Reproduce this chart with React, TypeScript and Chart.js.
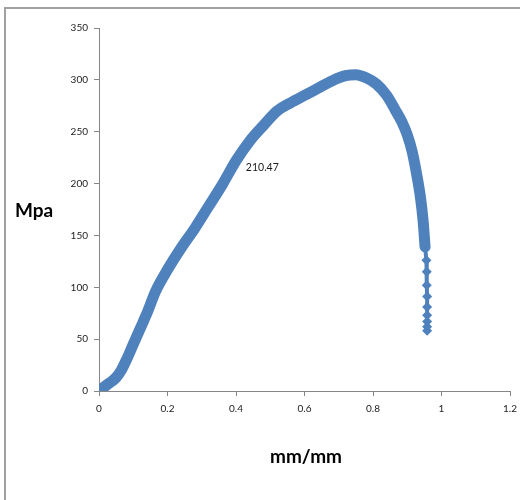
import React, { useEffect, useRef } from "react";
import { Chart, registerables } from "chart.js";

Chart.register(...registerables);

// Main stress-strain curve
const strainMain = [0, 0.015, 0.032, 0.05, 0.065, 0.08, 0.1, 0.12, 0.14, 0.165, 0.2, 0.24, 0.28, 0.32, 0.36, 0.4, 0.44, 0.48, 0.52, 0.56, 0.6, 0.64, 0.68, 0.72, 0.75, 0.78, 0.81, 0.84, 0.865, 0.885, 0.9, 0.915, 0.928, 0.938, 0.946, 0.952];
const stressMain = [0, 4, 8, 13, 20, 30, 45, 60, 75, 96, 117, 138, 157, 178, 199, 222, 241, 256, 270, 278, 285, 292, 299, 304, 305, 302, 296, 285, 271, 259, 247, 230, 208, 188, 165, 139];

// Sparse tail of individual diamond markers
const strainTail = [0.952, 0.956, 0.957, 0.957, 0.958, 0.958, 0.958, 0.958, 0.958, 0.958];
const stressTail = [139, 126, 115, 102, 91, 81, 73, 67, 62, 58];

const xMin = 0;
const xMax = 1.2;
const xStep = 0.2;
const yMin = 0;
const yMax = 350;
const yStep = 50;

const labelStrain = [0.385];
const labelStress = [210.47];
const labelText = ["210.47"];

const xTitle = "mm/mm";
const yTitle = "Mpa";

const BLUE = "#4F81BD";

export default function App() {
  const ref = useRef<HTMLCanvasElement | null>(null);

  useEffect(() => {
    if (!ref.current) return;

    const overlay = {
      id: "overlay",
      afterDraw(chart: any) {
        const ctx = chart.ctx;
        const xs = chart.scales.x;
        const ys = chart.scales.y;
        ctx.save();
        ctx.fillStyle = "#1a1a1a";
        ctx.font = "10.5px Lato";
        ctx.textAlign = "left";
        ctx.textBaseline = "middle";
        for (let i = 0; i < labelText.length; i++) {
          const px = xs.getPixelForValue(labelStrain[i]);
          const py = ys.getPixelForValue(labelStress[i]);
          ctx.fillText(labelText[i], px + 15, py - 5);
        }
        ctx.fillStyle = "#000";
        ctx.font = "bold 19px Lato";
        ctx.textAlign = "center";
        ctx.textBaseline = "alphabetic";
        ctx.fillText(yTitle, 34, 217);
        ctx.fillText(xTitle, 306, 463);
        ctx.restore();
      },
    };

    const chart = new Chart(ref.current, {
      type: "scatter",
      data: {
        datasets: [
          {
            data: strainMain.map((x, i) => ({ x, y: stressMain[i] })),
            showLine: true,
            borderColor: BLUE,
            backgroundColor: BLUE,
            borderWidth: 11,
            borderCapStyle: "round",
            borderJoinStyle: "round",
            cubicInterpolationMode: "monotone",
            pointRadius: 0,
          },
          {
            data: strainTail.map((x, i) => ({ x, y: stressTail[i] })),
            showLine: true,
            borderColor: BLUE,
            backgroundColor: BLUE,
            borderWidth: 4,
            pointStyle: "rectRot",
            pointRadius: 5,
            pointBorderWidth: 0,
          },
        ],
      },
      options: {
        responsive: false,
        animation: false,
        devicePixelRatio: 1,
        layout: { padding: { left: 0, right: 0, top: 28, bottom: 0 } },
        plugins: {
          legend: { display: false },
          tooltip: { enabled: false },
        },
        scales: {
          x: {
            type: "linear",
            min: xMin,
            max: xMax,
            afterFit: (s: any) => {
              s.height = 109;
              s.paddingRight = 10;
              s.paddingLeft = 0;
            },
            ticks: {
              stepSize: xStep,
              font: { family: "Lato", size: 10 },
              color: "#222",
              padding: 7,
              maxRotation: 0,
              callback: (v: any) => String(Number(Number(v).toFixed(1))),
            },
            grid: {
              display: true,
              drawOnChartArea: false,
              drawTicks: true,
              tickLength: 5,
              color: "#868686",
            },
            border: { display: true, color: "#868686", width: 1 },
          },
          y: {
            type: "linear",
            min: yMin,
            max: yMax,
            afterFit: (s: any) => {
              s.width = 99;
            },
            ticks: {
              stepSize: yStep,
              font: { family: "Lato", size: 10 },
              color: "#222",
              padding: 6,
            },
            grid: {
              display: true,
              drawOnChartArea: false,
              drawTicks: true,
              tickLength: 5,
              color: "#868686",
            },
            border: { display: true, color: "#868686", width: 1 },
          },
        },
      } as any,
      plugins: [overlay],
    });

    return () => chart.destroy();
  }, []);

  return (
    <div
      style={{
        position: "fixed",
        left: 0,
        top: 0,
        width: 520,
        height: 500,
        background: "#fff",
        overflow: "hidden",
      }}
    >
      <div
        style={{
          position: "absolute",
          left: 4,
          top: 7,
          width: 540,
          height: 520,
          borderLeft: "2px solid #a0a0a0",
          borderTop: "2px solid #a0a0a0",
        }}
      />
      <canvas
        ref={ref}
        width={520}
        height={500}
        style={{ position: "absolute", left: 0, top: 0, width: 520, height: 500 }}
      />
    </div>
  );
}
